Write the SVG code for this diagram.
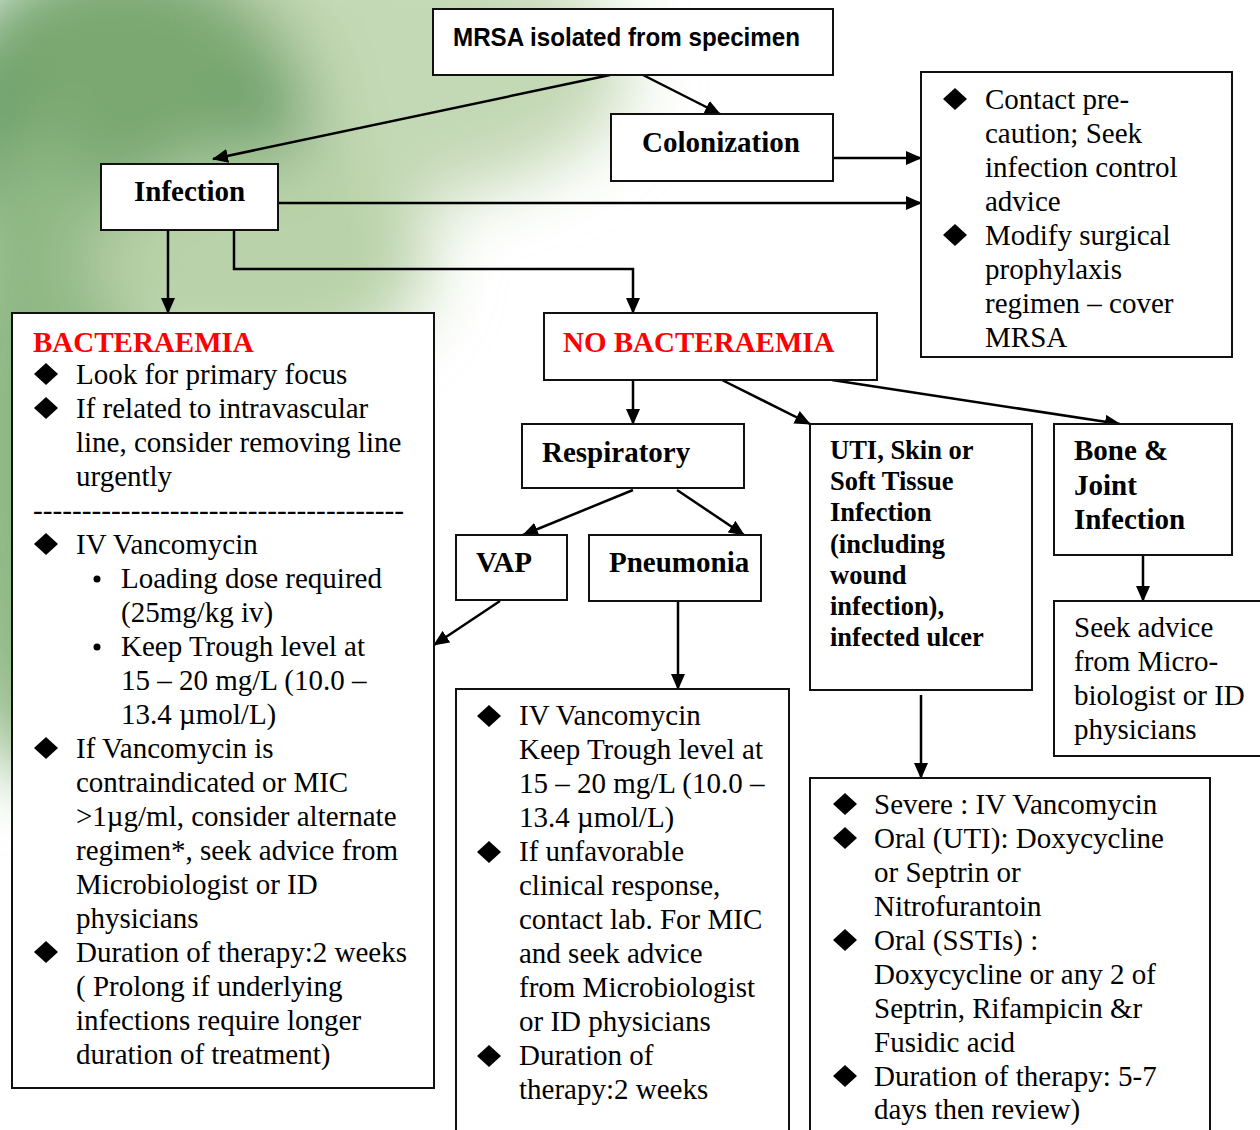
<svg xmlns="http://www.w3.org/2000/svg" width="1260" height="1130" viewBox="0 0 1260 1130">
<style>
.box{fill:#fff;stroke:#111;stroke-width:2}
.t{font-family:"Liberation Serif","Times New Roman",serif;font-size:29px;fill:#000}
.b{font-weight:bold}
.red{fill:#f00}
.utl{font-size:26.5px}
.sans{font-family:"Liberation Sans",Arial,sans-serif;font-weight:bold;font-size:26px}
.c{fill:none;stroke:#000;stroke-width:2.5}
.dia{fill:#000}
</style>
<defs>
<marker id="ah" markerUnits="userSpaceOnUse" markerWidth="16" markerHeight="14" refX="15" refY="7" orient="auto">
<path d="M0,0 L16,7 L0,14 Z" fill="#000"/>
</marker>
<polygon id="d" points="0,-11 12,0 0,11 -12,0"/>
<filter id="blur" x="-50%" y="-50%" width="200%" height="200%"><feGaussianBlur stdDeviation="35"/></filter>
<linearGradient id="fade" x1="0" y1="0" x2="1" y2="0">
<stop offset="0" stop-color="#fff" stop-opacity="0"/>
<stop offset="1" stop-color="#fff" stop-opacity="1"/>
</linearGradient>
</defs>
<rect width="1260" height="1130" fill="#fff"/>
<g id="background" filter="url(#blur)">
<ellipse cx="330" cy="70" rx="300" ry="140" fill="#c3d8b4"/>
<ellipse cx="120" cy="140" rx="190" ry="190" fill="#5f9a63"/>
<ellipse cx="40" cy="450" rx="110" ry="330" fill="#8fb884"/>
<ellipse cx="260" cy="260" rx="170" ry="110" fill="#b9d2a9"/>
<ellipse cx="130" cy="60" rx="140" ry="90" fill="#7aa870"/>
</g>

<g id="connectors">
<line class="c" x1="610" y1="75" x2="213" y2="159" marker-end="url(#ah)"/>
<line class="c" x1="643" y1="75" x2="720" y2="114" marker-end="url(#ah)"/>
<line class="c" x1="833" y1="158" x2="921" y2="158" marker-end="url(#ah)"/>
<line class="c" x1="278" y1="203" x2="921" y2="203" marker-end="url(#ah)"/>
<line class="c" x1="168" y1="230" x2="168" y2="313" marker-end="url(#ah)"/>
<polyline class="c" points="234,230 234,269 633,269 633,313" marker-end="url(#ah)"/>
<line class="c" x1="633" y1="380" x2="633" y2="424" marker-end="url(#ah)"/>
<line class="c" x1="722" y1="380" x2="810" y2="424" marker-end="url(#ah)"/>
<line class="c" x1="832" y1="380" x2="1120" y2="424" marker-end="url(#ah)"/>
<line class="c" x1="633" y1="490" x2="523" y2="535" marker-end="url(#ah)"/>
<line class="c" x1="677" y1="490" x2="744" y2="535" marker-end="url(#ah)"/>
<line class="c" x1="500" y1="601" x2="434" y2="645" marker-end="url(#ah)"/>
<line class="c" x1="678" y1="601" x2="678" y2="689" marker-end="url(#ah)"/>
<line class="c" x1="921" y1="695" x2="921" y2="778" marker-end="url(#ah)"/>
<line class="c" x1="1143" y1="555" x2="1143" y2="601" marker-end="url(#ah)"/>
</g>

<g id="mrsa">
<rect class="box" x="433" y="9" width="400" height="66"/>
<text class="sans" x="453" y="46" textLength="347" lengthAdjust="spacingAndGlyphs">MRSA isolated from specimen</text>
</g>

<g id="colonization">
<rect class="box" x="611" y="114" width="222" height="67"/>
<text class="t b" x="642" y="152">Colonization</text>
</g>

<g id="contact">
<rect class="box" x="921" y="72" width="311" height="285"/>
<use href="#d" class="dia" x="955" y="99"/>
<use href="#d" class="dia" x="955" y="235"/>
<text class="t" x="985" y="109">Contact pre-<tspan x="985" dy="34">caution; Seek</tspan><tspan x="985" dy="34">infection control</tspan><tspan x="985" dy="34">advice</tspan><tspan x="985" dy="34">Modify surgical</tspan><tspan x="985" dy="34">prophylaxis</tspan><tspan x="985" dy="34">regimen – cover</tspan><tspan x="985" dy="34">MRSA</tspan></text>
</g>

<g id="infection">
<rect class="box" x="101" y="164" width="177" height="66"/>
<text class="t b" x="134" y="201">Infection</text>
</g>

<g id="bacteraemia">
<rect class="box" x="12" y="313" width="422" height="775"/>
<text class="t b red" x="33" y="352">BACTERAEMIA</text>
<use href="#d" class="dia" x="46" y="374"/>
<use href="#d" class="dia" x="46" y="408"/>
<use href="#d" class="dia" x="46" y="544"/>
<use href="#d" class="dia" x="46" y="748"/>
<use href="#d" class="dia" x="46" y="952"/>
<circle cx="97" cy="579" r="3.5"/>
<circle cx="97" cy="647" r="3.5"/>
<text class="t" x="76" y="384">Look for primary focus<tspan x="76" dy="34">If related to intravascular</tspan><tspan x="76" dy="34">line, consider removing line</tspan><tspan x="76" dy="34">urgently</tspan></text>
<text class="t" x="33" y="520" textLength="371" lengthAdjust="spacingAndGlyphs">--------------------------------------</text>
<text class="t" x="76" y="554">IV Vancomycin</text>
<text class="t" x="121" y="588">Loading dose required<tspan x="121" dy="34">(25mg/kg iv)</tspan><tspan x="121" dy="34">Keep Trough level at</tspan><tspan x="121" dy="34">15 – 20 mg/L (10.0 –</tspan><tspan x="121" dy="34">13.4 µmol/L)</tspan></text>
<text class="t" x="76" y="758">If Vancomycin is<tspan x="76" dy="34">contraindicated or MIC</tspan><tspan x="76" dy="34">&gt;1µg/ml, consider alternate</tspan><tspan x="76" dy="34">regimen*, seek advice from</tspan><tspan x="76" dy="34">Microbiologist or ID</tspan><tspan x="76" dy="34">physicians</tspan><tspan x="76" dy="34">Duration of therapy:2 weeks</tspan><tspan x="76" dy="34">( Prolong if underlying</tspan><tspan x="76" dy="34">infections require longer</tspan><tspan x="76" dy="34">duration of treatment)</tspan></text>
</g>

<g id="no-bacteraemia">
<rect class="box" x="544" y="313" width="333" height="67"/>
<text class="t b red" x="563" y="352">NO BACTERAEMIA</text>
</g>

<g id="respiratory">
<rect class="box" x="522" y="424" width="222" height="64"/>
<text class="t b" x="542" y="462">Respiratory</text>
</g>

<g id="vap">
<rect class="box" x="456" y="535" width="111" height="65"/>
<text class="t b" x="476" y="572">VAP</text>
</g>

<g id="pneumonia">
<rect class="box" x="589" y="535" width="172" height="66"/>
<text class="t b" x="609" y="572">Pneumonia</text>
</g>

<g id="uti">
<rect class="box" x="810" y="424" width="222" height="266"/>
<text class="t b utl" x="830" y="459">UTI, Skin or<tspan x="830" dy="31.2">Soft Tissue</tspan><tspan x="830" dy="31.2">Infection</tspan><tspan x="830" dy="31.2">(including</tspan><tspan x="830" dy="31.2">wound</tspan><tspan x="830" dy="31.2">infection),</tspan><tspan x="830" dy="31.2">infected ulcer</tspan></text>
</g>

<g id="bone-joint">
<rect class="box" x="1054" y="424" width="178" height="131"/>
<text class="t b" x="1074" y="460">Bone &amp;<tspan x="1074" dy="34.5">Joint</tspan><tspan x="1074" dy="34.5">Infection</tspan></text>
</g>

<g id="seek-advice">
<rect class="box" x="1054" y="601" width="215" height="155"/>
<text class="t" x="1074" y="637">Seek advice<tspan x="1074" dy="34">from Micro-</tspan><tspan x="1074" dy="34">biologist or ID</tspan><tspan x="1074" dy="34">physicians</tspan></text>
</g>

<g id="pneumonia-treatment">
<rect class="box" x="456" y="689" width="333" height="460"/>
<use href="#d" class="dia" x="489" y="716"/>
<use href="#d" class="dia" x="489" y="852"/>
<use href="#d" class="dia" x="489" y="1056"/>
<text class="t" x="519" y="725">IV Vancomycin<tspan x="519" dy="34">Keep Trough level at</tspan><tspan x="519" dy="34">15 – 20 mg/L (10.0 –</tspan><tspan x="519" dy="34">13.4 µmol/L)</tspan><tspan x="519" dy="34">If unfavorable</tspan><tspan x="519" dy="34">clinical response,</tspan><tspan x="519" dy="34">contact lab. For MIC</tspan><tspan x="519" dy="34">and seek advice</tspan><tspan x="519" dy="34">from Microbiologist</tspan><tspan x="519" dy="34">or ID physicians</tspan><tspan x="519" dy="34">Duration of</tspan><tspan x="519" dy="34">therapy:2 weeks</tspan></text>
</g>

<g id="uti-treatment">
<rect class="box" x="810" y="778" width="400" height="370"/>
<use href="#d" class="dia" x="845" y="804"/>
<use href="#d" class="dia" x="845" y="838"/>
<use href="#d" class="dia" x="845" y="940"/>
<use href="#d" class="dia" x="845" y="1076"/>
<text class="t" x="874" y="814">Severe : IV Vancomycin<tspan x="874" dy="34">Oral (UTI): Doxycycline</tspan><tspan x="874" dy="34">or Septrin or</tspan><tspan x="874" dy="34">Nitrofurantoin</tspan><tspan x="874" dy="34">Oral (SSTIs) :</tspan><tspan x="874" dy="34">Doxycycline or any 2 of</tspan><tspan x="874" dy="34">Septrin, Rifampicin &amp;r</tspan><tspan x="874" dy="34">Fusidic acid</tspan><tspan x="874" dy="34">Duration of therapy: 5-7</tspan><tspan x="874" dy="33">days then review)</tspan></text>
</g>
</svg>
